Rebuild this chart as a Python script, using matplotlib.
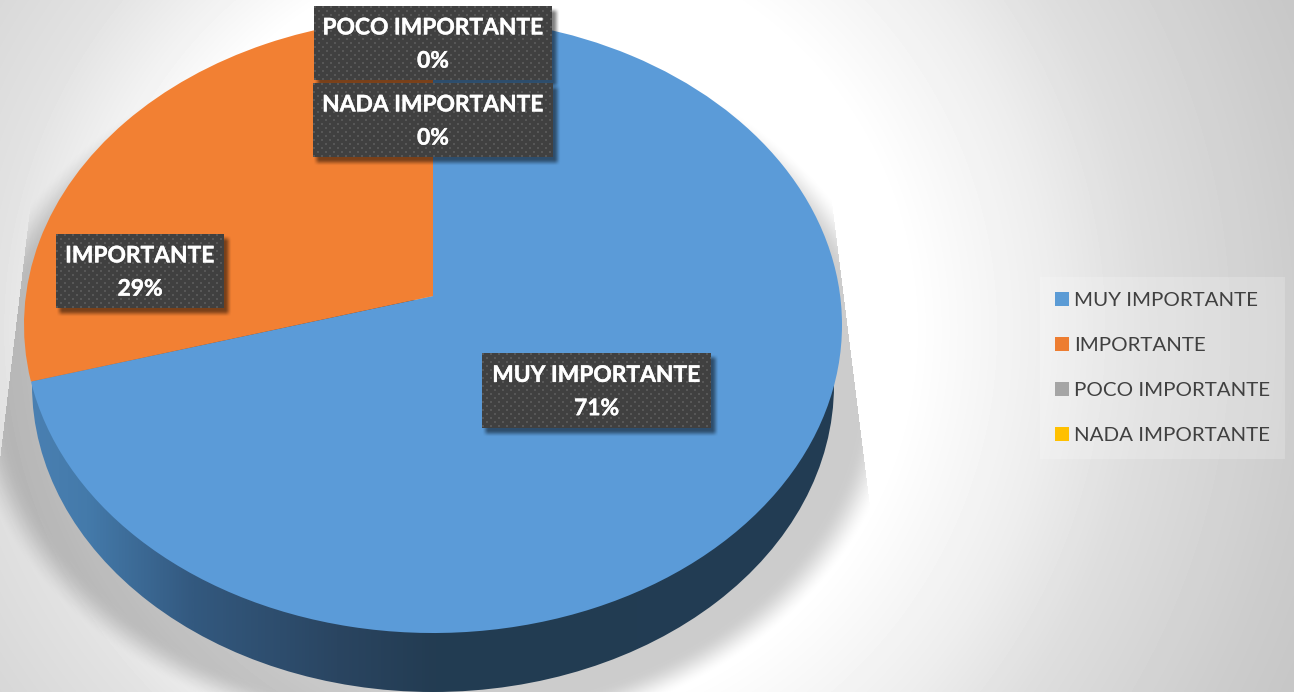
import numpy as np
import matplotlib
matplotlib.use("Agg")
import matplotlib.pyplot as plt
import matplotlib.patheffects as pe
import matplotlib.transforms as mtransforms
from matplotlib.colors import LinearSegmentedColormap
from matplotlib.patches import Ellipse, Patch

categories = ["MUY IMPORTANTE", "IMPORTANTE", "POCO IMPORTANTE", "NADA IMPORTANTE"]
values = [70.6, 29.4, 0, 0]

pie_colors = ["#5B9BD8", "#F28033", "#A5A5A5", "#FFC000"]
legend_colors = ["#5B9BD5", "#ED7D31", "#A5A5A5", "#FFC000"]

W, H = 1294, 692
label_font = dict(family="Lato", color="white", weight="bold", size=16.4, linespacing=1.72)


class TiltTransform(mtransforms.Transform):
    """Projective map of the unit disc onto itself, moves the centre up by b."""
    input_dims = 2
    output_dims = 2
    is_separable = False
    has_inverse = False

    def __init__(self, b):
        super().__init__()
        self.b = b

    def transform_non_affine(self, xy):
        xy = np.asarray(xy, dtype=float)
        w = 1 + self.b * xy[:, 1]
        return np.column_stack((xy[:, 0] * np.sqrt(1 - self.b**2) / w, (xy[:, 1] + self.b) / w))


def smooth(a, lo, hi):
    t = np.clip((a - lo) / (hi - lo), 0, 1)
    return t * t * (3 - 2 * t)


yy, xx = np.mgrid[0:H, 0:W] + 0.5


def draw_background(ax):
    r = np.hypot(xx - 520, yy - 330)
    # the fade is slower on the right than on the left
    grey_l = np.interp(r, [380, 528, 615, 775, 850], [1.0, 0.885, 0.85, 0.79, 0.775])
    grey_r = np.interp(r, [390, 532, 622, 785, 860], [1.0, 0.93, 0.87, 0.80, 0.775])
    s = smooth(xx, 300, 700)
    grey = grey_l * (1 - s) + grey_r * s
    ax.imshow(grey, cmap="gray", vmin=0, vmax=1, extent=(0, W, H, 0), aspect="auto", zorder=0)


def draw_shadow(ax):
    m = np.sqrt(((xx - 433) / 401)**2 + ((yy - 385) / 307)**2)
    alpha = 0.2 * (1 - smooth(m, 1.07, 1.17))
    alpha[xx < 27 - (yy - 235) * 27 / 225] = 0
    alpha[xx > 838 + (yy - 250) * 30 / 240] = 0
    rgba = np.zeros((H, W, 4))
    rgba[..., 3] = alpha
    ax.imshow(rgba, extent=(0, W, H, 0), aspect="auto", zorder=1)


def draw_wall(ax):
    cmap = LinearSegmentedColormap.from_list("wall", [
        (0.0, "#4A80B2"), (0.07, "#447AAA"), (0.2, "#33597F"),
        (0.38, "#2A4561"), (0.5, "#233C52"), (1.0, "#223D54")])
    grad = np.linspace(0, 1, 512).reshape(1, -1)
    im = ax.imshow(grad, cmap=cmap, extent=(30, 840, H + 20, 300), aspect="auto", zorder=2)
    wall = Ellipse((433, 385), 2 * 401, 2 * 307, transform=ax.transData, facecolor="none", edgecolor="none")
    ax.add_patch(wall)
    im.set_clip_path(wall)


def draw_label(ax, box, text):
    x0, y0, x1, y1 = box
    # soft shadow behind the box
    sx, sy = 4, 5
    a = (smooth(xx, x0 + sx - 4, x0 + sx + 3) * (1 - smooth(xx, x1 + sx - 3, x1 + sx + 4))
         * smooth(yy, y0 + sy - 4, y0 + sy + 3) * (1 - smooth(yy, y1 + sy - 3, y1 + sy + 4)))
    rgba = np.zeros((H, W, 4))
    rgba[..., 3] = a * 0.5
    ax.imshow(rgba, extent=(0, W, H, 0), aspect="auto", zorder=5)

    # dotted fill
    bw, bh = x1 - x0, y1 - y0
    py, px = np.mgrid[0:bh, 0:bw]
    tile = np.full((bh, bw), 0.25)
    dots = ((px % 8 < 2) & (py % 8 < 2)) | (((px + 4) % 8 < 2) & ((py + 4) % 8 < 2))
    tile[dots] = 0.34
    ax.imshow(tile, cmap="gray", vmin=0, vmax=1, extent=(x0, x1, y1, y0), aspect="auto",
              interpolation="nearest", zorder=6)
    t = ax.text((x0 + x1) / 2, (y0 + y1) / 2 + 1.5, text, ha="center", va="center", zorder=7, **label_font)
    t.set_path_effects([pe.withStroke(linewidth=0.3, foreground="white")])


fig = plt.figure(figsize=(W / 100, H / 100), dpi=100, facecolor="white")
ax = fig.add_axes([0, 0, 1, 1])

draw_background(ax)
draw_shadow(ax)
draw_wall(ax)

wedges, _ = ax.pie(values, colors=pie_colors, startangle=90, counterclock=False,
                   wedgeprops=dict(linewidth=0))
disc_to_px = TiltTransform(0.094) + mtransforms.Affine2D().scale(409, -308).translate(433, 325) + ax.transData
for w in wedges:
    w.set_transform(disc_to_px)
    w.set_zorder(3)

ax.set_aspect("auto")
ax.set_xlim(0, W)
ax.set_ylim(H, 0)
ax.axis("off")

label_boxes = [(482, 353, 711, 428), (56, 234, 224, 308), (314, 6, 552, 80), (313, 83, 553, 157)]
for cat, v, box in zip(categories, values, label_boxes):
    draw_label(ax, box, f"{cat}\n{round(v)}%")

handles = [Patch(facecolor=c, edgecolor="none") for c in legend_colors]
leg = fig.legend(handles, categories, loc="upper left", bbox_to_anchor=(1040 / W, 1 - 277 / H),
                 bbox_transform=fig.transFigure, prop=dict(family="Lato", size=14.75),
                 labelcolor="#404040", frameon=True, fancybox=False, facecolor="white", edgecolor="none",
                 framealpha=0.2, borderaxespad=0, borderpad=0.72, labelspacing=1.36,
                 handlelength=0.68, handleheight=0.68, handletextpad=0.25)
leg.get_frame().set_linewidth(0)

fig.savefig("out.png", dpi=100)
